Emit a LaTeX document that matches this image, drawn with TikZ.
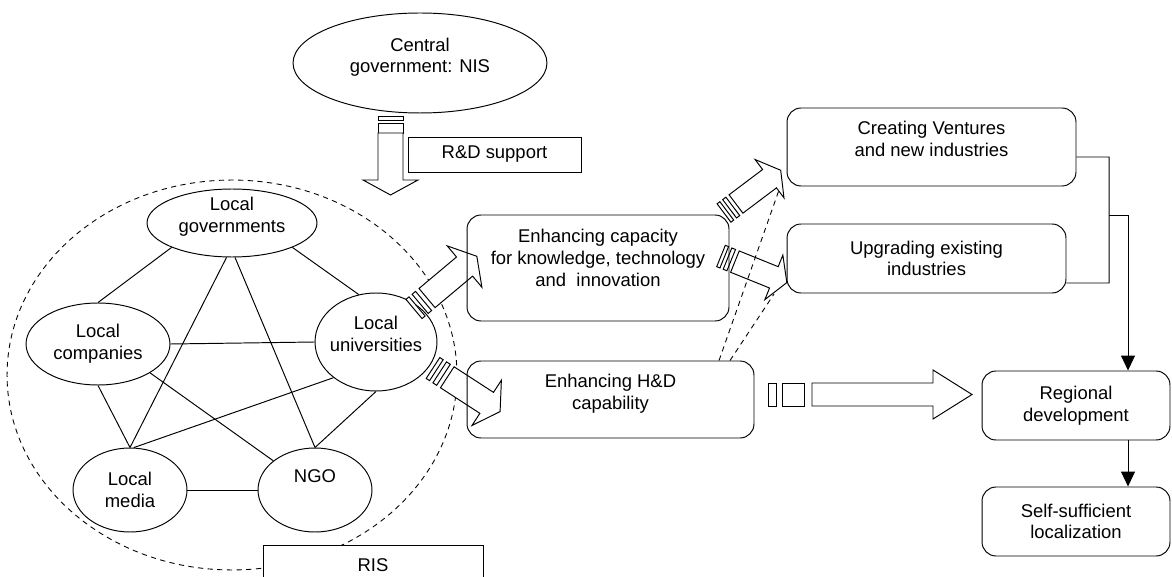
\documentclass[tikz,border=0pt]{standalone}
\usepackage{fontspec}
\setmainfont{Liberation Sans}
\usetikzlibrary{shapes.geometric,arrows.meta,calc}

% Striped block arrow along the local x axis, tail at the origin.
% #1 end of first stripe, #2/#3 second stripe, #4 shaft start,
% #5 head base, #6 tip, #7 shaft half-width, #8 head half-width
\newcommand\stripedarrow[8]{%
  \filldraw[fill=white] (0,-#7) -- (#1,-#7) -- (#1,#7) -- (0,#7) -- cycle;
  \filldraw[fill=white] (#2,-#7) -- (#3,-#7) -- (#3,#7) -- (#2,#7) -- cycle;
  \filldraw[fill=white] (#4,-#7) -- (#5,-#7) -- (#5,-#8) -- (#6,0) -- (#5,#8) -- (#5,#7) -- (#4,#7) -- cycle;
}
% Centred lines of text set slightly above the middle of their node
\newcommand\liftup[2]{\raisebox{#1}[\height][\depth]{\begin{tabular}{@{}c@{}}#2\end{tabular}}}

\begin{document}
\begin{tikzpicture}[x=0.02cm, y=-0.02cm, line width=0.55pt,
  every node/.style={font=\fontsize{10.5}{12.4}\selectfont, align=center},
  oval/.style={draw, ellipse, inner sep=-2pt},
  rbox/.style={draw, rounded corners=0.28cm, inner sep=0pt},
  sbox/.style={draw, inner sep=0pt},
  risline/.style={dash pattern=on 3pt off 2.5pt, line width=0.5pt},
  hintline/.style={dash pattern=on 3pt off 2.5pt, line width=0.5pt},
  headarrow/.style={-{Triangle[length=0.3cm,width=0.28cm]}}]

\useasboundingbox (0,0) rectangle (1172,577);
\clip (0,0) rectangle (1172,577);

% national level
\node[oval, minimum width=5.08cm, minimum height=2cm] (cg) at (420,63) {\liftup{3pt}{Central\\government: NIS}};
\node[sbox, minimum width=3.46cm, minimum height=0.7cm] (rdsup) at (494.5,154.5) {R\&D support};
\begin{scope}[shift={(390.5,116)}, rotate=-90]
  \stripedarrow{4}{7}{17}{17}{64}{79}{12.5}{27.5}
\end{scope}

% regional innovation system
\draw[risline] (232,375) ellipse [x radius=4.5cm, y radius=3.9cm];
\node[sbox, minimum width=4.4cm, minimum height=0.8cm, fill=white] (risbox) at (373,565) {RIS};

\node[oval, minimum width=3.4cm, minimum height=1.36cm] (lg) at (232,223) {\liftup{3.5pt}{Local\\governments}};
\node[oval, minimum width=2.88cm, minimum height=1.64cm] (lc) at (98,344) {Local\\companies};
\node[oval, minimum width=2.44cm, minimum height=1.96cm] (lu) at (376,342) {\liftup{3.5pt}{Local\\universities}};
\node[oval, minimum width=2.28cm, minimum height=1.68cm] (lm) at (130,490) {Local\\media};
\node[oval, minimum width=2.28cm, minimum height=1.68cm] (ngo) at (315,490) {\liftup{6.5pt}{NGO}};

\draw (lg.202) -- (lc.90);
\draw (lg.338) -- (lu.110);
\draw (lg.261) -- (lm.90);
\draw (lg.275) -- (ngo.90);
\draw (lc.0) -- (lu.180);
\draw (lc.270) -- (lm.90);
\draw (lc.331) -- (ngo.145);
\draw (lu.220) -- (lm.85);
\draw (lu.270) -- (ngo.90);
\draw (lm.0) -- (ngo.180);

% block arrows
\begin{scope}[shift={(414,309)}, rotate=40]
  \stripedarrow{4}{8}{12.5}{17}{66}{82}{12.5}{27}
\end{scope}
\begin{scope}[shift={(433,368)}, rotate=-33]
  \stripedarrow{4}{8}{12.5}{17}{64}{80}{12.5}{27}
\end{scope}
\begin{scope}[shift={(724,213)}, rotate=37]
  \stripedarrow{3.5}{7}{11}{15}{57}{71}{11.5}{24}
\end{scope}
\begin{scope}[shift={(721,256)}, rotate=-22]
  \stripedarrow{3.5}{7}{11}{15}{57}{71}{11.5}{24}
\end{scope}
\begin{scope}[shift={(768,394.5)}]
  \stripedarrow{8}{14}{36}{44}{165}{204}{11.5}{24.5}
\end{scope}

% outcome boxes
\node[rbox, minimum width=5.24cm, minimum height=2.12cm] (cap) at (598,268) {\liftup{4.5pt}{Enhancing capacity\\for knowledge, technology\\and\ \ innovation}};
\node[rbox, minimum width=5.74cm, minimum height=1.54cm] (hd) at (610.5,399.5) {\liftup{3pt}{Enhancing H\&D\\capability}};
\node[rbox, minimum width=5.78cm, minimum height=1.56cm] (cv) at (931.5,147) {\liftup{3.5pt}{Creating Ventures\\and new industries}};
\node[rbox, minimum width=5.58cm, minimum height=1.38cm] (ug) at (926.5,258.5) {Upgrading existing\\industries};
\node[rbox, minimum width=3.76cm, minimum height=1.38cm] (reg) at (1076,405.5) {Regional\\development};
\node[rbox, minimum width=3.76cm, minimum height=1.38cm] (ss) at (1076,521.5) {Self-sufficient\\localization};

% H&D also feeds the industry arrows
\coordinate (cvhead) at (779,190);
\coordinate (ughead) at (774,294);
\draw[hintline] ($(hd.north)+(108.5,0)$) -- (cvhead);
\draw[hintline] ($(hd.north)+(119.5,0)$) -- (ughead);

% industries join into regional development
\coordinate (bj) at (1109,215);
\draw ($(cv.east)+(0,10)$) -| (1109,283) -- ($(ug.east)+(0,24.5)$);
\draw[headarrow] (bj) -| ($(reg.north)+(52,0)$);
\draw[headarrow] ($(reg.south)+(52,0)$) -- ($(ss.north)+(52,0)$);

\end{tikzpicture}
\end{document}
